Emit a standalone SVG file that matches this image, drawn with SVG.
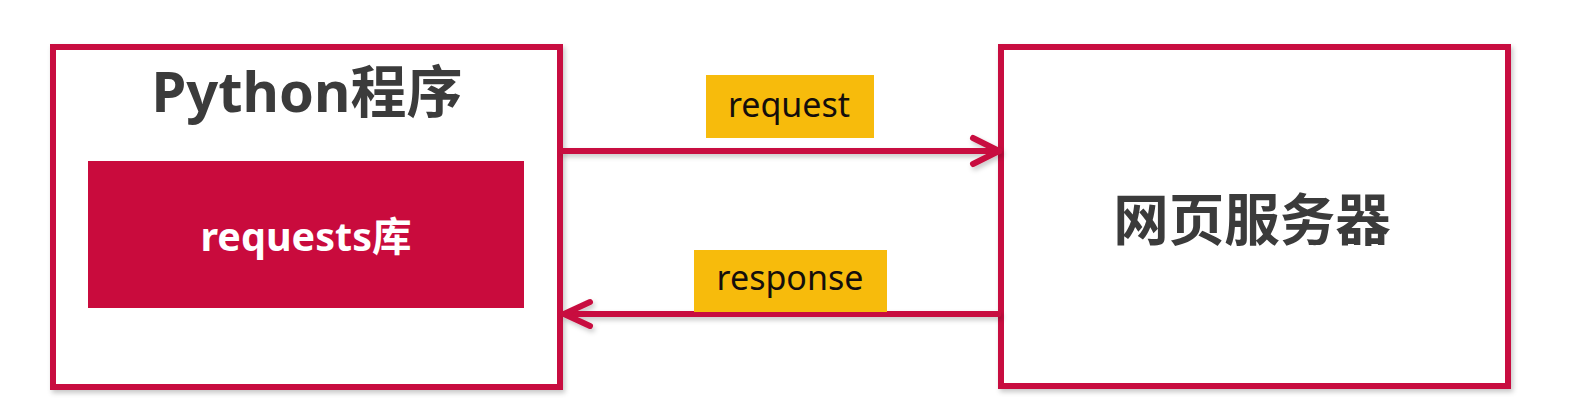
<svg xmlns="http://www.w3.org/2000/svg" width="1575" height="418" viewBox="0 0 1575 418">
  <defs>
    <filter id="sh" x="-5%" y="-5%" width="110%" height="115%">
      <feDropShadow dx="2" dy="3" stdDeviation="2.5" flood-color="#000" flood-opacity="0.22"/>
    </filter>
  </defs>
  <style>
    .box { fill: #ffffff; stroke: #C8103F; stroke-width: 6; }
    .lib { fill: #C90B3D; }
    .tag { fill: #F7BB0C; }
    .title { font-family: "Noto Sans", "Noto Sans CJK SC", sans-serif; font-weight: bold; fill: #3B3B3B; text-anchor: middle; }
    .white { font-family: "Noto Sans", "Noto Sans CJK SC", sans-serif; font-weight: bold; fill: #ffffff; text-anchor: middle; }
    .lbl { font-family: "Noto Sans", "Noto Sans CJK SC", sans-serif; fill: #140E0C; text-anchor: middle; }
    .conn { fill: none; stroke: #C8103F; stroke-width: 6; stroke-linecap: round; stroke-linejoin: round; }
  </style>
  <rect width="1575" height="418" fill="#ffffff"/>

  <g id="python-program">
    <rect class="box" x="53" y="47" width="507" height="340" filter="url(#sh)"/>
    <text class="title" x="307" y="112" font-size="56">Python程序</text>
  </g>

  <g id="requests-lib">
    <rect class="lib" x="88" y="161" width="436" height="147"/>
    <text class="white" x="306" y="251" font-size="39.5">requests库</text>
  </g>

  <g id="web-server">
    <rect class="box" x="1001" y="47" width="507" height="339" filter="url(#sh)"/>
    <text class="title" x="1252" y="240" font-size="55.5">网页服务器</text>
  </g>

  <g id="connectors">
    <g filter="url(#sh)">
      <path class="conn" d="M563 151 H999"/>
      <path class="conn" d="M973 138 L999 151 L973 164"/>
      <path class="conn" d="M998 314 H564"/>
      <path class="conn" d="M590 302 L564 314 L590 326"/>
    </g>
  </g>

  <g id="label-request">
    <rect class="tag" x="706" y="75" width="168" height="63"/>
    <text class="lbl" x="789" y="117" font-size="34">request</text>
  </g>

  <g id="label-response">
    <rect class="tag" x="694" y="250" width="193" height="62"/>
    <text class="lbl" x="790" y="290" font-size="34">response</text>
  </g>
</svg>
